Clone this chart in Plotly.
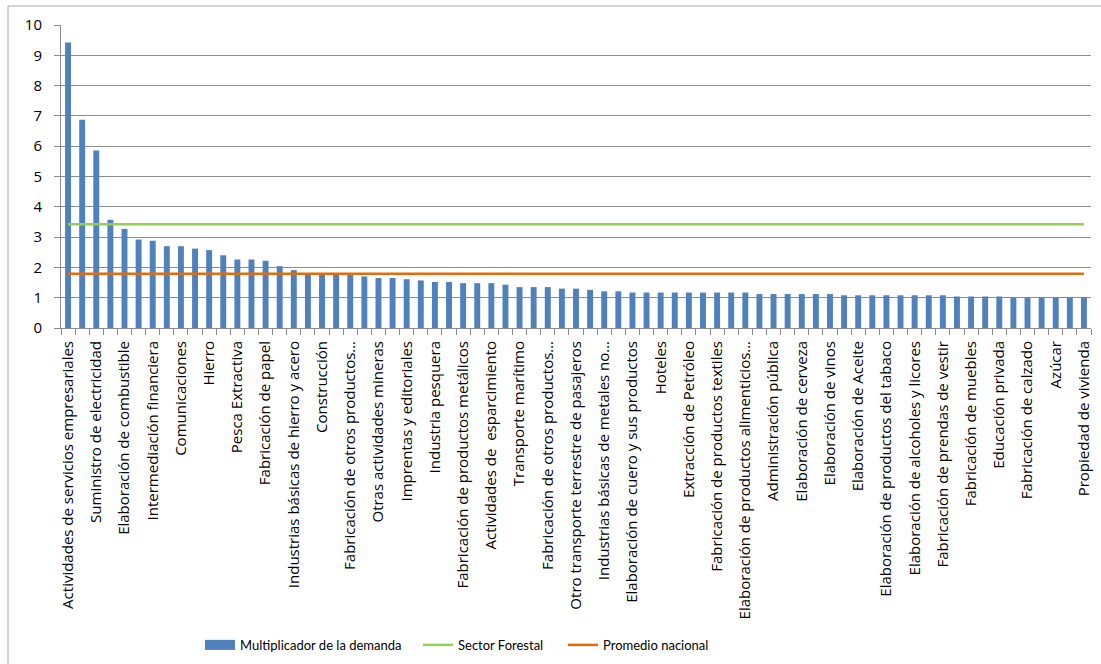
import plotly.graph_objects as go

# Multiplicador de la demanda, 73 sectores ordenados de mayor a menor
multiplicador = [
    9.42, 6.87, 5.86, 3.57, 3.27, 2.92, 2.88, 2.70, 2.70, 2.62,
    2.57, 2.40, 2.26, 2.26, 2.22, 2.04, 1.91, 1.80, 1.79, 1.79,
    1.76, 1.70, 1.65, 1.65, 1.61, 1.57, 1.52, 1.52, 1.48, 1.48,
    1.48, 1.43, 1.35, 1.35, 1.35, 1.30, 1.30, 1.26, 1.21, 1.21,
    1.17, 1.17, 1.17, 1.17, 1.17, 1.17, 1.17, 1.17, 1.17, 1.12,
    1.12, 1.12, 1.12, 1.12, 1.12, 1.08, 1.08, 1.08, 1.08, 1.08,
    1.08, 1.08, 1.08, 1.04, 1.04, 1.04, 1.04, 1.00, 1.00, 1.00,
    1.00, 1.00, 1.00,
]

# Rótulos visibles (uno de cada dos sectores)
rotulos = [
    "Actividades de servicios empresariales",
    "Suministro de electricidad",
    "Elaboración de combustible",
    "Intermediación financiera",
    "Comunicaciones",
    "Hierro",
    "Pesca Extractiva",
    "Fabricación de papel",
    "Industrias básicas de hierro y acero",
    "Construcción",
    "Fabricación de otros productos…",
    "Otras actividades mineras",
    "Imprentas y editoriales",
    "Industria pesquera",
    "Fabricación de productos metálicos",
    "Actividades de  esparcimiento",
    "Transporte marítimo",
    "Fabricación de otros productos…",
    "Otro transporte terrestre de pasajeros",
    "Industrias básicas de metales no…",
    "Elaboración de cuero y sus productos",
    "Hoteles",
    "Extracción de Petróleo",
    "Fabricación de productos textiles",
    "Elaboración de productos alimenticios…",
    "Administración pública",
    "Elaboración de cerveza",
    "Elaboración de vinos",
    "Elaboración de Aceite",
    "Elaboración de productos del tabaco",
    "Elaboración de alcoholes y licores",
    "Fabricación de prendas de vestir",
    "Fabricación de muebles",
    "Educación privada",
    "Fabricación de calzado",
    "Azúcar",
    "Propiedad de vivienda",
]

sector_forestal = 3.42
promedio_nacional = 1.79

n = len(multiplicador)
x = list(range(n))
forestal_serie = [sector_forestal] * n
promedio_serie = [promedio_nacional] * n

BAR_COLOR = "#4F81BD"
GRID = "#8C8C8C"
L, PW = 61, 1030  # plot-area left edge and width in pixels
LEG_Y = -1.046

fig = go.Figure()
fig.add_trace(go.Bar(
    x=x, y=multiplicador, name="Multiplicador de la demanda",
    marker=dict(color=BAR_COLOR, line=dict(width=0)), showlegend=False,
))
# legend swatch for the bar series (wide rectangle as in the original)
fig.add_trace(go.Scatter(
    x=[None], y=[None], mode="lines", name="Multiplicador de la demanda",
    line=dict(color=BAR_COLOR, width=10), hoverinfo="skip", legend="legend",
))
fig.add_trace(go.Scatter(
    x=x, y=forestal_serie, mode="lines", name="Sector Forestal",
    line=dict(color="#92D050", width=2.5), legend="legend2",
))
fig.add_trace(go.Scatter(
    x=x, y=promedio_serie, mode="lines", name="Promedio nacional",
    line=dict(color="#E46C0A", width=2.5), legend="legend3",
))

leg_common = dict(orientation="h", xanchor="left", yanchor="middle", y=LEG_Y,
                  font=dict(family="Lato", size=13), bgcolor="rgba(0,0,0,0)")

fig.update_layout(
    width=1101, height=664,
    margin=dict(l=L, r=10, t=25, b=336, autoexpand=False),
    paper_bgcolor="white", plot_bgcolor="white",
    bargap=0.58,
    font=dict(family="Lato", size=14, color="#000000"),
    showlegend=True,
    legend=dict(x=(200 - L) / PW, **leg_common),
    legend2=dict(x=(418 - L) / PW, **leg_common),
    legend3=dict(x=(563 - L) / PW, **leg_common),
    xaxis=dict(
        range=[-0.5, n - 0.5],
        tickmode="array", tickvals=x[::2], ticktext=rotulos,
        tickangle=-90, ticks="", ticklabelstandoff=6,
        tickfont=dict(family="Open Sans", size=15),
        showgrid=False, zeroline=False,
        showline=True, linecolor=GRID, linewidth=1,
        minor=dict(tickmode="linear", tick0=-0.5, dtick=1, ticks="outside",
                   ticklen=6, tickcolor=GRID, tickwidth=1, showgrid=False),
    ),
    yaxis=dict(
        range=[0, 10], dtick=1, tick0=0,
        showgrid=True, gridcolor=GRID, gridwidth=1,
        zeroline=False, showline=True, linecolor=GRID, linewidth=1,
        ticks="outside", ticklen=6, tickcolor=GRID, ticklabelstandoff=9,
        tickfont=dict(family="Open Sans", size=15),
    ),
    shapes=[dict(
        type="rect", xref="paper", yref="paper",
        x0=(8 - L) / PW, x1=(1110 - L) / PW,
        y0=(328 - 680) / 303, y1=(328 - 6) / 303,
        line=dict(color="#A6A6A6", width=1), layer="below",
    )],
)

fig.write_html("out.html")
